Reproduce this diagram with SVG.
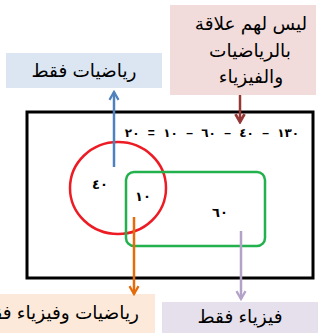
<svg xmlns="http://www.w3.org/2000/svg" width="320" height="333" viewBox="0 0 320 333">
<defs>
<style>
.lbl{font-family:"Liberation Sans",Arial,"DejaVu Sans",sans-serif;font-size:18.5px;fill:#000;text-anchor:middle;direction:rtl}
.num{font-family:"Liberation Sans",Arial,"DejaVu Sans",sans-serif;font-size:13px;font-weight:bold;fill:#000;text-anchor:middle}
.conn{fill:none;stroke-width:2.5}
</style>
<marker id="ab" viewBox="0 0 10 10" refX="8" refY="5" markerWidth="4.5" markerHeight="4.5" orient="auto" markerUnits="strokeWidth"><path d="M1,1 L8,5 L1,9" fill="none" stroke="#4f81bd" stroke-width="2"/></marker>
<marker id="ar" viewBox="0 0 10 10" refX="8" refY="5" markerWidth="4.5" markerHeight="4.5" orient="auto" markerUnits="strokeWidth"><path d="M1,1 L8,5 L1,9" fill="none" stroke="#953735" stroke-width="2.5"/></marker>
<marker id="ao" viewBox="0 0 10 10" refX="8" refY="5" markerWidth="4.5" markerHeight="4.5" orient="auto" markerUnits="strokeWidth"><path d="M1,1 L8,5 L1,9" fill="none" stroke="#e46c0a" stroke-width="2"/></marker>
<marker id="ap" viewBox="0 0 10 10" refX="8" refY="5" markerWidth="4.5" markerHeight="4.5" orient="auto" markerUnits="strokeWidth"><path d="M1,1 L8,5 L1,9" fill="none" stroke="#b3a2c7" stroke-width="2"/></marker>
</defs>
<rect width="320" height="333" fill="#fff"/>
<g id="universe">
<rect x="27" y="112" width="286" height="166" fill="#fff" stroke="#000" stroke-width="3"/>
<text x="212" y="137" class="num" style="font-size:12px;direction:rtl;word-spacing:5px;letter-spacing:1px">١٣٠ – ٤٠ – ٦٠ – ١٠ = ٢٠</text>
</g>
<g id="math-set">
<ellipse cx="118" cy="188" rx="48" ry="46" fill="none" stroke="#ed1c24" stroke-width="2.5"/>
<text x="100" y="189" class="num">٤٠</text>
</g>
<g id="physics-set">
<rect x="126" y="172" width="139" height="74" rx="8" fill="none" stroke="#22b14c" stroke-width="2.5"/>
<text x="143" y="201" class="num">١٠</text>
<text x="220" y="217" class="num">٦٠</text>
</g>
<g id="none-label">
<rect x="170" y="5" width="146" height="90" fill="#f2dcdb"/>
<text class="lbl" x="251" y="30">ليس لهم علاقة</text>
<text class="lbl" x="250" y="57">بالرياضيات</text>
<text class="lbl" x="251" y="83">والفيزياء</text>
</g>
<g id="math-only-label">
<rect x="6" y="53" width="156" height="35" fill="#dce6f2"/>
<text class="lbl" x="84" y="77">رياضيات فقط</text>
</g>
<g id="both-label">
<rect x="0" y="294" width="155" height="39" fill="#fde9d9"/>
<text class="lbl" x="139" y="319" style="text-anchor:start">رياضيات وفيزياء فقط</text>
</g>
<g id="physics-only-label">
<rect x="162" y="302" width="156" height="31" fill="#e5e0ec"/>
<text class="lbl" x="240" y="323">فيزياء فقط</text>
</g>
<g id="connectors">
<line class="conn" x1="114" y1="167" x2="114" y2="92" stroke="#4f81bd" marker-end="url(#ab)"/>
<line class="conn" x1="240" y1="95" x2="240" y2="122" stroke="#953735" marker-end="url(#ar)"/>
<line class="conn" x1="134" y1="217" x2="134" y2="294" stroke="#e46c0a" marker-end="url(#ao)"/>
<line class="conn" x1="241" y1="231" x2="241" y2="299" stroke="#b3a2c7" marker-end="url(#ap)"/>
</g>
</svg>
